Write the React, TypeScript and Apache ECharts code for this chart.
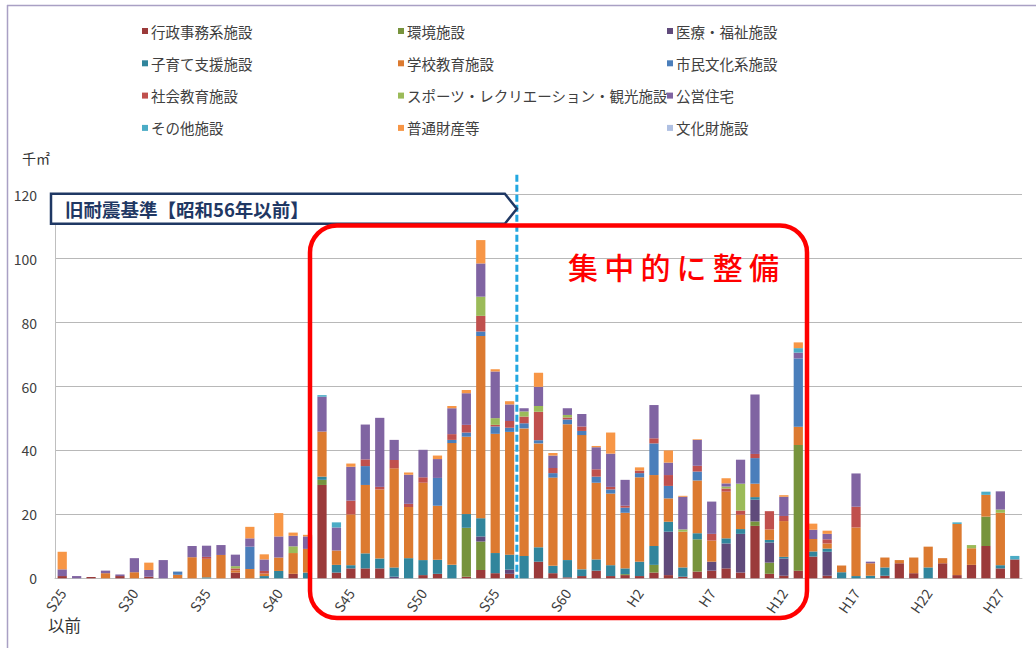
import React, { useEffect, useRef } from "react";
import * as echarts from "echarts";

const categories = [
  "S25","S26","S27","S28","S29","S30","S31","S32","S33","S34",
  "S35","S36","S37","S38","S39","S40","S41","S42","S43","S44",
  "S45","S46","S47","S48","S49","S50","S51","S52","S53","S54",
  "S55","S56","S57","S58","S59","S60","S61","S62","S63","H1",
  "H2","H3","H4","H5","H6","H7","H8","H9","H10","H11",
  "H12","H13","H14","H15","H16","H17","H18","H19","H20","H21",
  "H22","H23","H24","H25","H26","H27","H28",
];

const seriesNames = [
  "行政事務系施設","環境施設","医療・福祉施設",
  "子育て支援施設","学校教育施設","市民文化系施設",
  "社会教育施設","スポーツ・レクリエーション・観光施設","公営住宅",
  "その他施設","普通財産等","文化財施設",
];

const seriesColors = [
  "#9B3A3A","#77933C","#604A7B",
  "#31859C","#DC7A30","#4A7EBB",
  "#C0504D","#9BBB59","#8064A2",
  "#4BACC6","#F79646","#AFC0E2",
];

const gyosei = [
  0.7,0,0.4,0,0.7,0,0.5,0,0,0,
  0,0,1.8,0,0,0,1.4,0,29.2,1.8,
  3.1,3.1,3.1,0,0,1.0,1.4,0,0.5,2.6,
  1.6,1.4,0,5.2,1.6,0.3,0.7,2.4,0.7,1.0,
  0.7,1.8,1.0,0.5,2.1,2.4,3.1,1.8,16.4,1.4,
  0.8,2.4,6.8,0.8,0,0,0,0.8,4.7,1.6,
  0,4.7,1.0,4.2,10.1,3.1,5.9,
];
const kankyo = [
  0,0,0,0,0,0,0,0,0,0,
  0,0,0,0,0,0,0,0,1.6,0,
  0,0,0,0,0,0,0,0,15.3,8.9,
  0,0,0,0,0,0,0,0,0,0.3,
  0,2.4,0,0,10.1,0,0,0,1.4,3.5,
  0,39.3,0,0,0,0,0,0,0,0,
  0,0,0,0,9.2,0,0,
];
const iryo = [
  0,0,0,0,0,0,0,0,0,0,
  0,0,0,0,0,0,0,0,0,0,
  0,0,0,0.5,0,0,0,0,0,1.6,
  0,1.3,0,0,0,0,0,0,0,0,
  0,0,13.6,0,0,2.8,7.8,12.1,6.8,6.3,
  5.4,0,0,7.5,0,0,0,0,0,0,
  0,0,0,0,0,0,0,
];
const kosodate = [
  0,0,0,0,0,0,0,0,0,0,
  0.3,0,0,0,0.7,2.3,0,1.8,1.0,2.4,
  1.0,4.7,3.1,2.9,6.3,4.7,4.4,4.2,4.3,5.7,
  6.3,4.7,7.0,4.5,2.3,5.4,2.1,3.5,3.4,1.8,
  4.5,5.9,3.1,2.9,1.9,0,1.6,1.5,0.8,0.8,
  0.5,0,1.6,1.0,1.9,0.7,0.8,2.6,0,0,
  3.4,0,0,0,0,1.0,0,
];
const gakko = [
  0,0,0,1.6,0,1.9,0,0,1.1,6.6,
  5.8,7.3,0.7,2.9,0.8,4.2,6.5,7.4,14.1,4.5,
  15.9,21.4,21.6,31.0,16.0,24.2,16.9,38.1,24.2,57.0,
  37.3,38.4,39.9,32.5,27.6,42.5,42.0,24.0,22.4,17.4,
  26.4,22.2,7.3,11.2,16.5,6.6,14.6,4.5,4.2,3.3,
  11.2,5.7,3.9,1.6,2.1,15.2,3.9,3.1,1.0,4.9,
  6.5,1.6,16.0,5.2,6.8,16.4,0,
];
const shimin = [
  0,0,0,0,0,0,0,0,1.0,0,
  0,0,0,7.0,0,0,0,0,0,0,
  0,5.9,0,0,0,0,8.7,1.0,1.3,1.4,
  2.3,1.3,1.6,1.0,1.4,1.5,1.3,1.9,1.3,1.6,
  1.3,9.9,3.9,0,2.8,0,0,0,8.0,0,
  0,21.4,0,0,0,0,0,0,0,0,
  0,0,0,0,0,0,0,
];
const shakai = [
  0,0,0,0,0,0,0,0,0,0,
  0.6,0,0.6,0,0.8,0,0,0,0,0,
  4.3,2.1,0.8,2.6,1.0,1.7,0,1.8,2.4,4.9,
  0.5,2.1,2.1,8.9,1.6,0.6,1.4,2.3,0.8,0.6,
  0.8,1.6,3.4,0,1.8,2.1,1.0,1.3,1.3,5.7,
  1.6,0,0,1.3,0,6.5,0,0,0,0,
  0,0,0,0,0,0,0,
];
const sports = [
  0,0,0,0,0,0,0,0,0,0,
  0,0,0.7,0,0,0,2.1,0,0,0,
  0,0,0,0,0,0,0,0,0,6.0,
  2.1,0,1.6,1.8,0,0.8,0,0,0,0,
  0,0,0,0.7,0,0,0.6,8.4,0,0,
  0,0,0,0,0,0,0,0,0,0,
  0,0,0,1.0,0,1.0,0,
];
const koei = [
  2.1,0.7,0,0.8,0.5,4.4,2.1,5.7,0,3.5,
  3.5,3.1,3.6,2.6,3.6,6.6,3.3,3.9,10.9,7.2,
  10.6,10.9,21.6,6.3,9.1,8.6,5.9,8.1,9.9,10.4,
  14.6,5.2,1.0,6.0,3.9,2.1,3.9,6.9,10.4,8.1,
  0,10.4,3.9,10.2,8.1,10.1,1.0,7.5,18.6,0,
  6.0,1.8,2.9,1.7,0,10.4,0.5,0,0,0,
  0,0,0,0,0,5.7,0,
];
const sonota = [
  0,0,0,0,0,0,0,0,0,0,
  0,0,0,0,0,0,0,0,0.5,1.6,
  0,0,0,0,0,0,0,0,0,0,
  0,0,0,0,0,0,0,0,0,0,
  0,0,0,0,0,0,0,0,0,0,
  0,1.4,0,0,0,0,0,0,0,0,
  0,0,0.5,0,1.0,0,1.1,
];
const futsu = [
  5.5,0,0,0,0,0,2.3,0,0,0,
  0,0,0,3.6,1.6,7.3,1.0,0.5,0,0,
  1.0,0,0,0,0.7,0,1.1,0.7,1.0,7.3,
  0.7,1.0,0,4.4,0.8,0,0,0.4,6.6,0,
  1.0,0,3.8,0.3,0.2,0,1.6,0,0,0,
  0.5,1.8,1.9,1.0,0,0,0,0,0,0,
  0,0,0,0,0,0,0,
];
const bunka = [
  0,0,0,0,0,0,0,0,0,0,
  0,0,0,0,0,0,0,0,0,0,
  0,0,0,0,0,0,0,0,0,0,
  0,0,0,0,0,0,0,0,0,0,
  0,0,0,0,0,0,0,0,0,0,
  0,0,0,0,0,0,0,0,0,0,
  0,0,0,0,0,0,0,
];

const seriesData = [
  gyosei, kankyo, iryo, kosodate, gakko, shimin,
  shakai, sports, koei, sonota, futsu, bunka,
];

const legendColumns = [
  ["行政事務系施設","子育て支援施設","社会教育施設","その他施設"],
  ["環境施設","学校教育施設","スポーツ・レクリエーション・観光施設","普通財産等"],
  ["医療・福祉施設","市民文化系施設","公営住宅","文化財施設"],
];

const yTicks = { min: 0, max: 120, interval: 20 };
const boundaryBefore = "S56";
const boundaryAfter = "S57";
const boxLabel = "旧耐震基準【昭和56年以前】";
const focusLabel = "集中的に整備";

const FONT = "'Noto Sans CJK JP', 'Noto Sans', sans-serif";

export default function App() {
  const ref = useRef<HTMLDivElement>(null);

  useEffect(() => {
    if (!ref.current) return;
    const chart = echarts.init(ref.current, null, { renderer: "svg" });
    const legendLefts = [137, 393, 662];
    const option: any = {
      animation: false,
      backgroundColor: "#ffffff",
      textStyle: { fontFamily: FONT },
      grid: { left: 55, right: 14, top: 194.7, bottom: 69.7, containLabel: false },
      legend: legendColumns.map((col, k) => ({
        orient: "vertical",
        left: legendLefts[k],
        top: 16,
        itemWidth: 6,
        itemHeight: 6,
        itemGap: 12.3,
        icon: "rect",
        selectedMode: false,
        data: col,
        textStyle: { fontSize: 14.5, lineHeight: 20, color: "#404040", fontFamily: FONT, padding: [0, 0, 0, -2] },
      })),
      xAxis: {
        type: "category",
        data: categories,
        axisLine: { show: true, lineStyle: { color: "#BFBFBF", width: 1 } },
        axisTick: { show: false },
        axisLabel: {
          interval: (index: number) => index % 5 === 0,
          rotate: 55,
          fontSize: 14,
          color: "#404040",
          margin: 12,
          fontFamily: FONT,
        },
        splitLine: { show: false },
      },
      yAxis: {
        type: "value",
        min: yTicks.min,
        max: yTicks.max,
        interval: yTicks.interval,
        axisLine: { show: true, lineStyle: { color: "#BFBFBF", width: 1 } },
        axisTick: { show: false },
        axisLabel: { fontSize: 14, color: "#404040", margin: 18, fontFamily: FONT },
        splitLine: { show: true, lineStyle: { color: "#B8B8B8", width: 1 } },
      },
      series: seriesNames.map((name, k) => ({
        name,
        type: "bar",
        stack: "total",
        barWidth: "64%",
        data: seriesData[k],
        itemStyle: { color: seriesColors[k] },
        emphasis: { disabled: true },
      })),
    };
    chart.setOption(option);

    const xa = chart.convertToPixel({ xAxisIndex: 0 }, boundaryBefore) as number;
    const xb = chart.convertToPixel({ xAxisIndex: 0 }, boundaryAfter) as number;
    const xLine = (xa + xb) / 2;
    const yTop = chart.convertToPixel({ yAxisIndex: 0 }, yTicks.max) as number;
    const yZero = chart.convertToPixel({ yAxisIndex: 0 }, 0) as number;

    const focusChars = focusLabel.split("");
    const graphic: any[] = [
      { type: "line", z: 50, shape: { x1: 7.5, y1: 5, x2: 7.5, y2: 648 }, style: { stroke: "#A9A0C4", lineWidth: 1.5 } },
      { type: "line", z: 50, shape: { x1: 7, y1: 5.5, x2: 1036, y2: 5.5 }, style: { stroke: "#A9A0C4", lineWidth: 1.5 } },
      { type: "text", z: 50, x: 22, y: 151, style: { text: "千㎡", fontSize: 14, fill: "#333", fontFamily: FONT } },
      { type: "text", z: 50, x: 48, y: 617, style: { text: "以前", fontSize: 16.5, fill: "#333", fontFamily: FONT } },
      {
        type: "line", z: 60,
        shape: { x1: xLine, y1: yTop - 20, x2: xLine, y2: yZero },
        style: { stroke: "#22A7E0", lineWidth: 3, lineDash: [7, 3] },
      },
      {
        type: "polygon", z: 70,
        shape: { points: [[51, yTop - 1], [xLine - 12, yTop - 1], [xLine, yTop + 14], [xLine - 12, yTop + 29], [51, yTop + 29]] },
        style: { fill: "#ffffff", stroke: "#1F3864", lineWidth: 2.5 },
      },
      {
        type: "text", z: 71, x: 65, y: yTop + 14,
        style: { text: boxLabel, fontSize: 18.5, fontWeight: "bold", fill: "#1F3864", fontFamily: FONT, verticalAlign: "middle" },
      },
      {
        type: "rect", z: 80,
        shape: { x: 310, y: 225.5, width: 497, height: 392.5, r: 27 },
        style: { fill: "none", stroke: "#FF0000", lineWidth: 4.5 },
      },
      ...focusChars.map((ch, k) => ({
        type: "text", z: 81, x: 583 + k * 36.2, y: 266,
        style: { text: ch, fontSize: 30, fill: "#FF0000", fontFamily: FONT, align: "center", verticalAlign: "middle", fontWeight: 500 },
      })),
    ];
    chart.setOption({ graphic });

    return () => chart.dispose();
  }, []);

  return (
    <div
      ref={ref}
      style={{ position: "absolute", left: 0, top: 0, width: 1036, height: 648 }}
    />
  );
}
